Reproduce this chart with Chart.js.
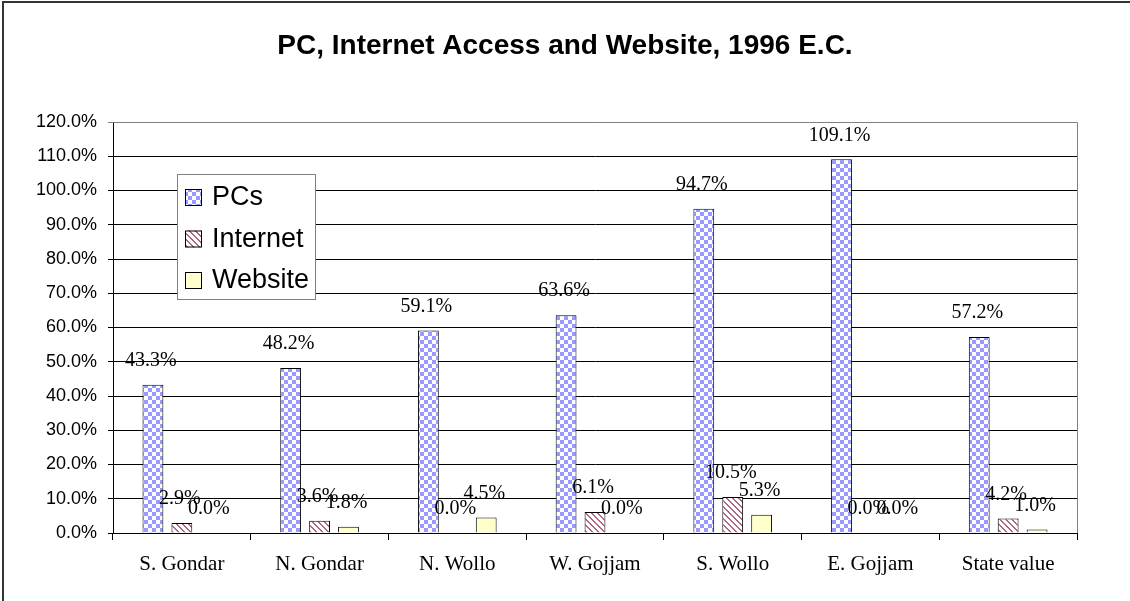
<!DOCTYPE html>
<html>
<head>
<meta charset="utf-8">
<script src="https://cdn.jsdelivr.net/npm/chart.js@4"></script>
<style>
  html, body { margin: 0; padding: 0; background: #fff; }
  canvas { display: block; }
</style>
</head>
<body>
<canvas id="ictChart" width="1130" height="601"></canvas>
<script>
// Data (percent)
const chartTitle = 'PC, Internet Access and Website, 1996 E.C.';
const zones = ['S. Gondar', 'N. Gondar', 'N. Wollo', 'W. Gojjam', 'S. Wollo', 'E. Gojjam', 'State value'];
const pcValues = [43.3, 48.2, 59.1, 63.6, 94.7, 109.1, 57.2];
const internetValues = [2.9, 3.6, 0.0, 6.1, 10.5, 0.0, 4.2];
const websiteValues = [0.0, 1.8, 4.5, 0.0, 5.3, 0.0, 1.0];
const yMax = 120;
const yStep = 10;

function makeTile(size, paint) {
    const c = document.createElement('canvas');
    c.width = size;
    c.height = size;
    const t = c.getContext('2d');
    t.fillStyle = '#fff';
    t.fillRect(0, 0, size, size);
    paint(t);
    return document.getElementById('ictChart').getContext('2d').createPattern(c, 'repeat');
}

// checkerboard for PCs
const checkerFill = makeTile(8, t => {
    t.fillStyle = '#9999ff';
    t.fillRect(0, 0, 4, 4);
    t.fillRect(4, 4, 4, 4);
});

// diagonal "\" stripes for Internet
const stripeFill = makeTile(6, t => {
    t.fillStyle = '#b06688';
    for (let y = 0; y < 6; y++) {
        for (let x = 0; x < 6; x++) {
            if (((x - y) % 6 + 6) % 6 < 2) t.fillRect(x, y, 1, 1);
        }
    }
});

const frame = {
    id: 'frame',
    beforeDraw(chart) {
        const ctx = chart.ctx;
        ctx.save();
        ctx.strokeStyle = '#333';
        ctx.lineWidth = 2;
        ctx.beginPath();
        ctx.moveTo(3, chart.height + 5);
        ctx.lineTo(3, 2);
        ctx.lineTo(chart.width + 5, 2);
        ctx.stroke();
        // title, centred on the whole picture
        ctx.font = 'bold 28px "Liberation Sans", Arial, sans-serif';
        ctx.fillStyle = '#000';
        ctx.textAlign = 'center';
        ctx.textBaseline = 'middle';
        ctx.fillText(chartTitle, chart.width / 2, 46);
        ctx.restore();
    },
    beforeDatasetsDraw(chart) {
        const a = chart.chartArea;
        const ctx = chart.ctx;
        ctx.save();
        ctx.strokeStyle = '#808080';
        ctx.lineWidth = 1;
        ctx.beginPath();
        ctx.moveTo(a.left, a.top + 0.5);
        ctx.lineTo(a.right + 0.5, a.top + 0.5);
        ctx.lineTo(a.right + 0.5, a.bottom);
        ctx.stroke();
        ctx.restore();
    }
};

const valueLabels = {
    id: 'valueLabels',
    afterDatasetsDraw(chart) {
        const ctx = chart.ctx;
        ctx.save();
        ctx.font = '20px "Liberation Serif", "Times New Roman", serif';
        ctx.fillStyle = '#000';
        ctx.textAlign = 'center';
        ctx.textBaseline = 'middle';
        chart.data.datasets.forEach((ds, i) => {
            chart.getDatasetMeta(i).data.forEach((bar, j) => {
                ctx.fillText(ds.data[j].toFixed(1) + '%', bar.x - 2, bar.y - 24);
            });
        });
        ctx.restore();
    }
};

const boxLegend = {
    id: 'boxLegend',
    afterDraw(chart) {
        const ctx = chart.ctx;
        const x = 177, y = 174, w = 138, h = 125;
        ctx.save();
        ctx.fillStyle = '#fff';
        ctx.fillRect(x, y, w, h);
        ctx.strokeStyle = '#808080';
        ctx.lineWidth = 1;
        ctx.strokeRect(x + 0.5, y + 0.5, w, h);
        ctx.font = '27px "Liberation Sans", Arial, sans-serif';
        ctx.textBaseline = 'middle';
        chart.data.datasets.forEach((ds, i) => {
            const cy = y + 23 + i * 41.5;
            ctx.fillStyle = ds.backgroundColor;
            ctx.fillRect(185, cy - 8, 17, 17);
            ctx.strokeStyle = '#000';
            ctx.strokeRect(185.5, cy - 7.5, 16, 16);
            ctx.fillStyle = '#000';
            ctx.fillText(ds.label, 212, cy + 1);
        });
        ctx.restore();
    }
};

const barStyle = {
    borderColor: '#000',
    borderWidth: 1,
    categoryPercentage: 0.63,
    barPercentage: 0.72
};

new Chart(document.getElementById('ictChart'), {
    type: 'bar',
    data: {
        labels: zones,
        datasets: [
            { label: 'PCs', data: pcValues, backgroundColor: checkerFill, ...barStyle },
            { label: 'Internet', data: internetValues, backgroundColor: stripeFill, ...barStyle },
            { label: 'Website', data: websiteValues, backgroundColor: '#ffffcc', ...barStyle }
        ]
    },
    options: {
        responsive: false,
        animation: false,
        devicePixelRatio: 1,
        layout: { padding: { top: 122, right: 53, bottom: 0, left: 0 } },
        plugins: {
            legend: { display: false },
            tooltip: { enabled: false },
            title: { display: false }
        },
        scales: {
            x: {
                grid: {
                    offset: true,
                    drawOnChartArea: false,
                    color: '#000',
                    tickLength: 7
                },
                border: { color: '#000', width: 1 },
                ticks: {
                    color: '#000',
                    padding: 12,
                    maxRotation: 0,
                    font: { family: '"Liberation Serif", "Times New Roman", serif', size: 21 }
                },
                afterFit(scale) { scale.height = 68; }
            },
            y: {
                min: 0,
                max: yMax,
                grid: {
                    color: ctx => ctx.tick && ctx.tick.value === yMax ? '#808080' : '#000',
                    lineWidth: 1,
                    tickLength: 5
                },
                border: { color: '#000', width: 1 },
                ticks: {
                    stepSize: yStep,
                    color: '#000',
                    padding: 11,
                    font: { family: '"Liberation Sans", Arial, sans-serif', size: 18 },
                    callback: v => v.toFixed(1) + '%'
                },
                afterFit(scale) { scale.width = 113; }
            }
        }
    },
    plugins: [frame, valueLabels, boxLegend]
});
</script>
</body>
</html>
